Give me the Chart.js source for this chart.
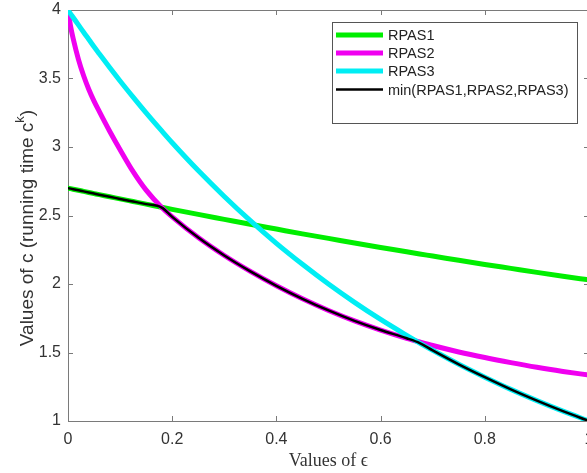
<!DOCTYPE html>
<html>
<head>
<meta charset="utf-8">
<script src="https://cdn.jsdelivr.net/npm/chart.js@4.4.1/dist/chart.umd.min.js"></script>
<style>
  html, body { margin: 0; padding: 0; background: #fff; overflow: hidden; }
  #wrap { width: 600px; height: 473px; }
</style>
</head>
<body>
<div id="wrap"><canvas id="chart" width="600" height="473"></canvas></div>
<script>
// values of epsilon (x) and the three running-time bases
const epsValues = [0, 0.005, 0.01, 0.02, 0.03, 0.04, 0.05, 0.06, 0.08, 0.1, 0.125, 0.15, 0.18, 0.2,
  0.25, 0.3, 0.35, 0.4, 0.45, 0.5, 0.55, 0.6, 0.65, 0.675, 0.7, 0.75, 0.8, 0.85, 0.9, 0.95, 1.0];
const rpas1 = [2.700, 2.696, 2.692, 2.684, 2.676, 2.668, 2.660, 2.652, 2.637, 2.621, 2.602, 2.583, 2.560, 2.545,
  2.508, 2.472, 2.436, 2.401, 2.366, 2.333, 2.299, 2.267, 2.235, 2.219, 2.204, 2.173, 2.143, 2.114, 2.085, 2.057, 2.030];
const rpas2 = [4.000, 3.880, 3.790, 3.640, 3.520, 3.420, 3.335, 3.260, 3.115, 2.980, 2.820, 2.685, 2.558, 2.490,
  2.339, 2.208, 2.092, 1.987, 1.892, 1.807, 1.731, 1.664, 1.604, 1.577, 1.551, 1.504, 1.463, 1.426, 1.392, 1.362, 1.335];
const rpas3 = [4.000, 3.972, 3.945, 3.891, 3.837, 3.785, 3.732, 3.681, 3.580, 3.482, 3.364, 3.249, 3.117, 3.031,
  2.828, 2.639, 2.462, 2.297, 2.144, 2.000, 1.866, 1.741, 1.625, 1.569, 1.516, 1.414, 1.320, 1.231, 1.149, 1.072, 1.000];
const seriesLabels = ['RPAS1', 'RPAS2', 'RPAS3', 'min(RPAS1,RPAS2,RPAS3)'];
const seriesColors = ['#00ee00', '#f000f0', '#00eef4', '#000000'];

const SANS = "'Liberation Sans', Arial, sans-serif";
const SERIF = "'Liberation Serif', 'DejaVu Serif', serif";

const minSeries = epsValues.map((_, i) => Math.min(rpas1[i], rpas2[i], rpas3[i]));

function toPoints(ys) {
  return epsValues.map((x, i) => ({ x, y: ys[i] }));
}

// MATLAB-like box with inward ticks on all four sides
const axesBox = {
  id: 'axesBox',
  beforeDatasetsDraw(chart) {
    const { ctx, chartArea: a, scales } = chart;
    ctx.save();
    ctx.strokeStyle = '#7a7a7a';
    ctx.lineWidth = 1;
    ctx.beginPath();
    ctx.rect(Math.round(a.left) + 0.5, Math.round(a.top) + 0.5,
      Math.round(a.right - a.left), Math.round(a.bottom - a.top));
    const len = 5;
    scales.x.ticks.forEach(t => {
      const px = Math.round(scales.x.getPixelForValue(t.value)) + 0.5;
      ctx.moveTo(px, a.bottom); ctx.lineTo(px, a.bottom - len);
      ctx.moveTo(px, a.top); ctx.lineTo(px, a.top + len);
    });
    scales.y.ticks.forEach(t => {
      const py = Math.round(scales.y.getPixelForValue(t.value)) + 0.5;
      ctx.moveTo(a.left, py); ctx.lineTo(a.left + len, py);
      ctx.moveTo(a.right, py); ctx.lineTo(a.right - len, py);
    });
    ctx.stroke();
    ctx.restore();
  },
  afterDraw(chart) {
    const { ctx, chartArea: a } = chart;
    ctx.save();
    ctx.fillStyle = '#333';

    // x title (LaTeX style)
    ctx.font = '18px ' + SERIF;
    ctx.textAlign = 'center';
    ctx.textBaseline = 'middle';
    ctx.fillText('Values of \u03f5', (a.left + a.right) / 2, 461);

    // y title with superscript k
    const mainFont = '19px ' + SANS;
    const supFont = '13px ' + SANS;
    const p1 = 'Values of c (running time c', p2 = 'k', p3 = ')';
    ctx.font = mainFont;
    const w1 = ctx.measureText(p1).width, w3 = ctx.measureText(p3).width;
    ctx.font = supFont;
    const w2 = ctx.measureText(p2).width;
    const total = w1 + w2 + w3;
    ctx.translate(28, 228);
    ctx.rotate(-Math.PI / 2);
    ctx.textAlign = 'left';
    ctx.textBaseline = 'middle';
    let x0 = -total / 2;
    ctx.font = mainFont;
    ctx.fillText(p1, x0, 0);
    ctx.font = supFont;
    ctx.fillText(p2, x0 + w1, -8);
    ctx.font = mainFont;
    ctx.fillText(p3, x0 + w1 + w2, 0);
    ctx.restore();

    // legend box
    ctx.save();
    const bx = 332, by = 22, bw = 245, bh = 101;
    ctx.fillStyle = '#fff';
    ctx.fillRect(bx, by, bw, bh);
    ctx.strokeStyle = '#555';
    ctx.lineWidth = 1;
    ctx.strokeRect(bx + 0.5, by + 0.5, bw, bh);
    ctx.font = '14.5px ' + SANS;
    ctx.textAlign = 'left';
    ctx.textBaseline = 'middle';
    const rows = [35, 53, 71, 89.5];
    seriesLabels.forEach((lbl, i) => {
      const ds = chart.data.datasets.find(d => d.label === lbl);
      ctx.strokeStyle = ds.borderColor;
      ctx.lineWidth = i === 3 ? 2.5 : 5;
      ctx.beginPath();
      ctx.moveTo(336, rows[i]);
      ctx.lineTo(383, rows[i]);
      ctx.stroke();
      ctx.fillStyle = '#222';
      ctx.fillText(lbl, 388, rows[i] + 1);
    });
    ctx.restore();
  }
};

new Chart(document.getElementById('chart'), {
  type: 'line',
  data: {
    datasets: [
      { label: seriesLabels[0], data: toPoints(rpas1), borderColor: seriesColors[0], borderWidth: 5, order: 3 },
      { label: seriesLabels[1], data: toPoints(rpas2), borderColor: seriesColors[1], borderWidth: 5, order: 2 },
      { label: seriesLabels[2], data: toPoints(rpas3), borderColor: seriesColors[2], borderWidth: 5, order: 1 },
      { label: seriesLabels[3], data: toPoints(minSeries), borderColor: seriesColors[3], borderWidth: 2.5, order: 0 }
    ]
  },
  options: {
    responsive: false,
    animation: false,
    devicePixelRatio: 1,
    layout: { padding: { left: 0, top: 10, right: 11, bottom: 0 } },
    elements: {
      point: { radius: 0 },
      line: { cubicInterpolationMode: 'monotone', fill: false, borderCapStyle: 'round' }
    },
    plugins: { legend: { display: false }, tooltip: { enabled: false } },
    scales: {
      x: {
        type: 'linear',
        min: 0, max: 1,
        ticks: { stepSize: 0.2, padding: 9, color: '#333', font: { family: SANS, size: 16 }, maxRotation: 0,
          callback: v => String(Math.round(v * 10) / 10) },
        grid: { display: false, drawTicks: false },
        border: { display: false },
        afterFit: s => { s.height = 52; s.paddingLeft = 0; s.paddingRight = 0; }
      },
      y: {
        min: 1, max: 4,
        ticks: { stepSize: 0.5, padding: 7, color: '#333', font: { family: SANS, size: 16 },
          callback: v => String(v) },
        grid: { display: false, drawTicks: false },
        border: { display: false },
        afterFit: s => { s.width = 68; s.paddingTop = 0; s.paddingBottom = 0; }
      }
    }
  },
  plugins: [axesBox]
});
</script>
</body>
</html>
